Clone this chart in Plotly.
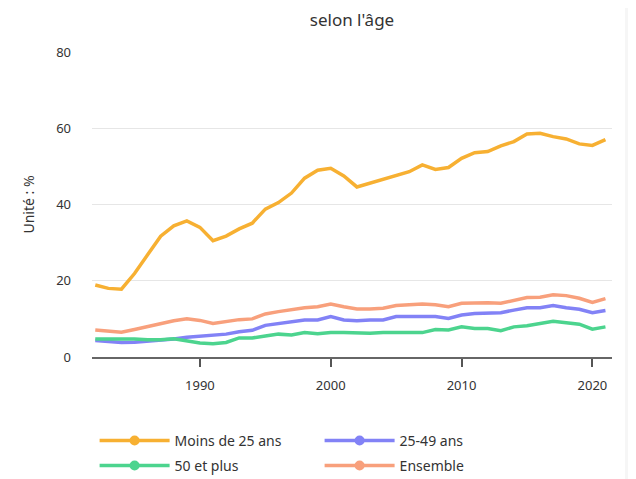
import plotly.graph_objects as go

years = list(range(1982, 2022))

moins_25 = [18.9, 18.0, 17.8, 21.9, 26.8, 31.7, 34.4, 35.7, 34.0, 30.5,
            31.7, 33.6, 35.1, 38.8, 40.5, 43.0, 46.9, 49.0, 49.5, 47.5,
            44.6, 45.6, 46.6, 47.6, 48.6, 50.4, 49.2, 49.7, 52.1, 53.6,
            53.9, 55.4, 56.5, 58.5, 58.7, 57.8, 57.2, 55.9, 55.5, 57.0]

age_25_49 = [4.3, 4.0, 3.8, 3.9, 4.1, 4.3, 4.7, 5.2, 5.4, 5.6,
             6.0, 6.6, 7.0, 8.3, 8.8, 9.3, 9.7, 9.7, 10.6, 9.7,
             9.5, 9.7, 9.7, 10.6, 10.6, 10.6, 10.6, 10.1, 11.0, 11.4,
             11.4, 11.6, 12.3, 12.9, 12.9, 13.5, 12.9, 12.5, 11.6, 12.2]

plus_50 = [4.7, 4.7, 4.8, 4.7, 4.5, 4.5, 4.8, 4.3, 3.7, 3.5,
           3.8, 5.0, 5.0, 5.5, 6.0, 5.8, 6.4, 6.1, 6.4, 6.4,
           6.2, 6.2, 6.4, 6.5, 6.4, 6.4, 7.2, 7.1, 7.9, 7.5,
           7.5, 6.9, 7.9, 8.2, 8.8, 9.4, 9.0, 8.6, 7.3, 7.9]

ensemble = [7.1, 6.8, 6.5, 7.2, 8.0, 8.8, 9.5, 10.0, 9.6, 8.8,
            9.3, 9.8, 10.0, 11.3, 11.9, 12.5, 12.9, 13.2, 13.9, 13.2,
            12.6, 12.6, 12.8, 13.5, 13.6, 13.9, 13.7, 13.2, 14.1, 14.2,
            14.2, 14.1, 14.8, 15.6, 15.7, 16.3, 16.1, 15.4, 14.3, 15.3]

series = [
    ("Moins de 25 ans", moins_25, "#F7B032"),
    ("25-49 ans", age_25_49, "#8282F6"),
    ("50 et plus", plus_50, "#4CD48E"),
    ("Ensemble", ensemble, "#F8A07C"),
]

fig = go.Figure()

# the data lines (no markers)
for name, vals, color in series:
    fig.add_trace(go.Scatter(
        x=years, y=vals, mode="lines", name=name,
        line=dict(color=color, width=3.5),
        showlegend=False,
    ))

# legend-only entries with a dot in the middle of the line, two per row
for i, (name, vals, color) in enumerate(series):
    fig.add_trace(go.Scatter(
        x=[None], y=[None], mode="lines+markers", name=name,
        line=dict(color=color, width=3.5),
        marker=dict(color=color, size=10),
        legend="legend" if i < 2 else "legend2",
    ))

# light strip on the right edge of the page
fig.add_shape(type="rect", xref="paper", yref="paper",
              x0=1.025, x1=1.08, y0=-1, y1=2,
              fillcolor="#f6f6f6", line_width=0, layer="below")

legend_style = dict(orientation="h", x=0.005, xanchor="left", yanchor="middle",
                    entrywidth=140, itemwidth=70,
                    font=dict(size=14, color="#333333"))

# the page body adds an 8px offset, so margins are shifted by that
fig.update_layout(
    width=628, height=471,
    paper_bgcolor="white", plot_bgcolor="white",
    font=dict(family="Noto Sans", size=13, color="#333333"),
    title=dict(text="selon l'âge", x=0.5, xref="paper", xanchor="center",
               y=0.975, yanchor="middle", font=dict(size=17, color="#333333")),
    margin=dict(l=84, r=24, t=44, b=122, autoexpand=False),
    xaxis=dict(range=[1981.75, 2021.5], tickvals=[1990, 2000, 2010, 2020],
               showgrid=False, zeroline=False,
               showline=True, linecolor="#666666", linewidth=1.5,
               ticks="outside", ticklen=8, tickcolor="#555555", tickwidth=1.5,
               ticklabelstandoff=8,
               tickfont=dict(size=13, color="#333333")),
    yaxis=dict(range=[0, 80], tickvals=[0, 20, 40, 60, 80],
               showgrid=True, gridcolor="#e6e6e6", gridwidth=1,
               zeroline=False, showline=False, ticks="",
               ticklabelstandoff=20,
               title=dict(text="Unité : %", font=dict(size=14, color="#333333"),
                          standoff=18),
               tickfont=dict(size=13, color="#333333")),
    legend=dict(y=-0.275, **legend_style),
    legend2=dict(y=-0.357, **legend_style),
)

fig.write_html("out.html")
